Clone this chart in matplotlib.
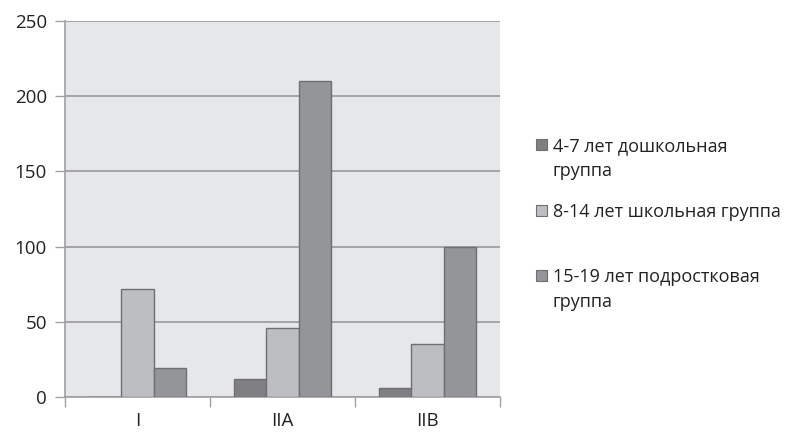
import matplotlib
matplotlib.use("Agg")
import matplotlib.pyplot as plt
import numpy as np
from matplotlib.patches import Rectangle

categories = ["I", "IIA", "IIB"]
series_labels = ["4-7 лет дошкольная\nгруппа", "8-14 лет школьная группа", "15-19 лет подростковая\nгруппа"]
s_preschool = [0, 12, 6]
s_school = [72, 46, 35]
s_teen = [19, 210, 100]
y_ticks = [0, 50, 100, 150, 200, 250]

colors = ["#808083", "#bdbec1", "#949598"]
edge = "#6e6f72"

plt.rcParams['font.family'] = ['Open Sans', 'DejaVu Sans']

fig = plt.figure(figsize=(7.93, 4.32), dpi=100)
ax = fig.add_axes([65/793, 35/432, 435/793, 376/432])
ax.set_facecolor("#e6e7e9")

x = np.arange(len(categories))
w = 0.224
for i, (vals, c) in enumerate(zip([s_preschool, s_school, s_teen], colors)):
    ax.bar(x + (i - 1) * w, vals, width=w, color=c, edgecolor=edge, linewidth=1.0, zorder=3)

ax.set_xlim(-0.5, 2.5)
ax.set_ylim(0, 250)
ax.set_yticks(y_ticks)
ax.set_xticks(x)
ax.set_xticklabels(categories)
ax.set_xticks([-0.5, 0.5, 1.5, 2.5], minor=True)
ax.tick_params(axis='x', which='major', length=0, pad=11, labelsize=13.5, colors="#222222")
ax.tick_params(axis='x', which='minor', length=7, width=1, color="#a0a0a0")
ax.tick_params(axis='y', length=7, width=1, color="#a0a0a0", labelsize=13.5, labelcolor="#222222", pad=6)
ax.grid(axis='y', color="#a0a0a2", linewidth=1.3, zorder=1)
for s in ['top', 'right']:
    ax.spines[s].set_visible(False)
for s in ['left', 'bottom']:
    ax.spines[s].set_color("#a0a0a0")
    ax.spines[s].set_linewidth(1.2)

# legend (manual, Excel-like layout)
baselines = [151, 217, 282]
for lab, c, yb in zip(series_labels, colors, baselines):
    fig.patches.append(Rectangle((536/793, 1 - (yb - 1)/432), 11/793, 11/432,
                                 transform=fig.transFigure, facecolor=c, edgecolor=edge, linewidth=0.8))
    fig.text(553/793, 1 - yb/432, lab.split("\n")[0], fontsize=13, color="#222222", va='baseline', ha='left')
    if "\n" in lab:
        fig.text(553/793, 1 - (yb + 25)/432, lab.split("\n")[1], fontsize=13, color="#222222", va='baseline', ha='left')

fig.savefig("out.png", dpi=100)
